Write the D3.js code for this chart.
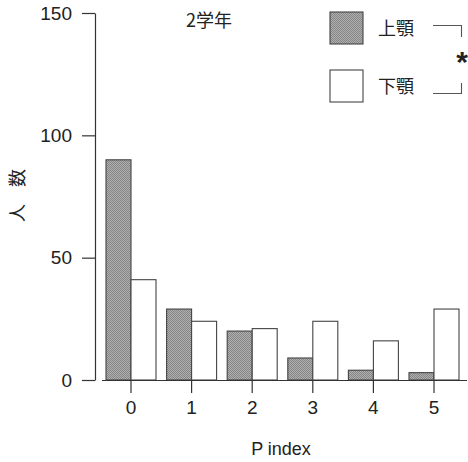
<!DOCTYPE html>
<html><head><meta charset="utf-8">
<script src="https://cdn.jsdelivr.net/npm/d3@7"></script>
<style>
body{margin:0;background:#fff;}
svg{display:block;}
text{font-family:"Liberation Sans",Arial,"Noto Sans CJK JP",sans-serif;fill:#222;}
.cjk{font-family:"Noto Sans CJK JP",sans-serif;}
</style></head>
<body>
<script>
const categories = ["0","1","2","3","4","5"];
const upperJaw = [90, 29, 20, 9, 4, 3];
const lowerJaw = [41, 24, 21, 24, 16, 29];
const yTicks = [0, 50, 100, 150];
const seriesNames = ["上顎", "下顎"];

const W = 468, H = 462;
const svg = d3.select("body").append("svg").attr("width", W).attr("height", H);

const defs = svg.append("defs");
const pat = defs.append("pattern").attr("id","stip").attr("patternUnits","userSpaceOnUse")
  .attr("width",2).attr("height",2);
pat.append("rect").attr("width",2).attr("height",2).attr("fill","#b0b0b0");
pat.append("rect").attr("width",1).attr("height",1).attr("fill","#858585");
pat.append("rect").attr("x",1).attr("y",1).attr("width",1).attr("height",1).attr("fill","#858585");

const y = d3.scaleLinear().domain([0,150]).range([380,13]);
const x = d3.scaleBand().domain(categories).range([100.7,464.3]).paddingInner(0).paddingOuter(0);
const bw = 25;
const stroke = "#444";

// bars
const g = svg.append("g");
categories.forEach((c,i)=>{
  const cx = x(c) + x.bandwidth()/2;
  g.append("rect").attr("x",cx-bw).attr("y",y(upperJaw[i])).attr("width",bw)
    .attr("height",y(0)-y(upperJaw[i])).attr("fill","url(#stip)").attr("stroke",stroke).attr("stroke-width",1.1);
  g.append("rect").attr("x",cx).attr("y",y(lowerJaw[i])).attr("width",bw)
    .attr("height",y(0)-y(lowerJaw[i])).attr("fill","#fff").attr("stroke",stroke).attr("stroke-width",1.1);
});

// x axis baseline + ticks
const xAxis = d3.axisBottom(x).tickSize(13).tickPadding(8).tickSizeOuter(0);
const gx = svg.append("g").attr("transform","translate(0,380)").call(xAxis);
gx.select(".domain").attr("d","M102,0.5H467").attr("stroke","#333").attr("stroke-width",1.2);
gx.selectAll(".tick line").attr("stroke","#333").attr("stroke-width",1.2);
gx.selectAll(".tick text").attr("font-size",19).attr("font-family","Liberation Sans, Arial, sans-serif").attr("fill","#222");

// y axis
const yAxis = d3.axisLeft(y).tickValues(yTicks).tickSize(13).tickPadding(10).tickSizeOuter(0);
const gy = svg.append("g").attr("transform","translate(95,0)").call(yAxis);
gy.select(".domain").attr("stroke","#333").attr("stroke-width",1.2);
gy.selectAll(".tick line").attr("stroke","#333").attr("stroke-width",1.2);
gy.selectAll(".tick text").attr("font-size",19).attr("font-family","Liberation Sans, Arial, sans-serif").attr("fill","#222");

// axis titles
svg.append("text").attr("x",281).attr("y",455).attr("text-anchor","middle").attr("font-size",18).text("P index");
const yTitle = ["人","数"];
const yTitlePos = [213, 178];
yTitle.forEach((ch,i)=>{
  svg.append("text").attr("class","cjk").attr("transform",`translate(24,${yTitlePos[i]}) rotate(-90)`)
    .attr("text-anchor","middle").attr("font-size",18).text(ch);
});

// title
svg.append("text").attr("class","cjk").attr("x",209).attr("y",27).attr("text-anchor","middle").attr("font-size",18).text("2学年");

// legend
const leg = svg.append("g");
const legY = [12, 70];
const fills = ["url(#stip)", "#fff"];
seriesNames.forEach((n,i)=>{
  leg.append("rect").attr("x",330).attr("y",legY[i]).attr("width",33).attr("height",32)
    .attr("fill",fills[i]).attr("stroke",stroke).attr("stroke-width",1.1);
  leg.append("text").attr("class","cjk").attr("x",378).attr("y",legY[i]+23).attr("font-size",18).text(n);
});
// significance bracket
leg.append("path").attr("d","M433,25.5H461.5V37").attr("fill","none").attr("stroke","#555").attr("stroke-width",1.1);
leg.append("path").attr("d","M433,93.5H461.5V83").attr("fill","none").attr("stroke","#555").attr("stroke-width",1.1);
leg.append("text").attr("x",462).attr("y",72).attr("text-anchor","middle").attr("font-size",30).attr("font-weight","bold").text("*");
</script>
</body></html>
